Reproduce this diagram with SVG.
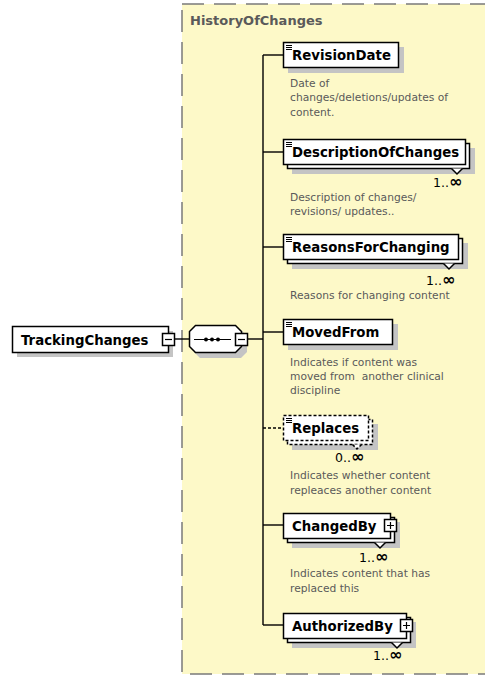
<svg xmlns="http://www.w3.org/2000/svg" width="485" height="676" viewBox="0 0 485 676">
  <style>
    .name { font-family: "DejaVu Sans", sans-serif; font-weight: bold; font-size: 13.3px; fill: #000; }
    .title { font-family: "DejaVu Sans", sans-serif; font-weight: bold; font-size: 13px; fill: #5a5a5a; }
    .doc { font-family: "DejaVu Sans", sans-serif; font-size: 10.7px; fill: #5a5a5a; }
    .occ { font-family: "DejaVu Sans", sans-serif; font-size: 12.5px; fill: #000; }
    .inf { font-size: 16px; font-weight: bold; }
    .box { fill: #fff; stroke: #000; stroke-width: 1.5; }
    .opt { fill: #fff; stroke: #000; stroke-width: 1.5; stroke-dasharray: 3 2; }
    .shadow { fill: #c4c4c4; }
    .conn { stroke: #000; stroke-width: 1.4; fill: none; }
    .icon { stroke: #000; stroke-width: 1.2; }
  </style>

  <!-- complex type content area -->
  <g id="HistoryOfChanges">
    <rect x="182" y="4" width="320" height="670" fill="#fdf9c8" stroke="#7a7a7a" stroke-width="1.5" stroke-dasharray="22 10"/>
    <text class="title" x="190" y="25">HistoryOfChanges</text>
  </g>

  <!-- connectors -->
  <g id="connectors" class="conn">
    <line x1="175" y1="339" x2="189" y2="339"/>
    <line x1="248" y1="339" x2="263" y2="339"/>
    <line x1="263" y1="55" x2="263" y2="625"/>
    <line x1="263" y1="55" x2="283" y2="55"/>
    <line x1="263" y1="152" x2="283" y2="152"/>
    <line x1="263" y1="247" x2="283" y2="247"/>
    <line x1="263" y1="332" x2="283" y2="332"/>
    <line x1="263" y1="428" x2="283" y2="428" stroke-dasharray="3 2"/>
    <line x1="263" y1="525" x2="283" y2="525"/>
    <line x1="263" y1="625" x2="283" y2="625"/>
  </g>

  <!-- root element -->
  <g id="TrackingChanges">
    <rect class="shadow" x="17" y="331" width="156" height="26"/>
    <rect class="box" x="12.5" y="326.5" width="156" height="26"/>
    <text class="name" x="21" y="344.5">TrackingChanges</text>
    <rect class="box" x="162.5" y="333.5" width="12" height="12"/>
    <line class="icon" x1="165" y1="339.5" x2="172" y2="339.5"/>
  </g>

  <!-- sequence compositor -->
  <g id="sequence">
    <path class="shadow" d="M200 330 H241 L247 336 V352 L241 358 H200 L194 352 V336 Z"/>
    <path class="box" d="M195.5 325.5 H235.5 L241.5 331.5 V346.5 L235.5 352.5 H195.5 L189.5 346.5 V331.5 Z"/>
    <line class="icon" x1="194" y1="339.5" x2="231" y2="339.5"/>
    <circle cx="206" cy="339.5" r="2"/>
    <circle cx="212" cy="339.5" r="2"/>
    <circle cx="218" cy="339.5" r="2"/>
    <rect class="box" x="235.5" y="333.5" width="12" height="12"/>
    <line class="icon" x1="238" y1="339.5" x2="245" y2="339.5"/>
  </g>

  <g id="RevisionDate">
    <rect class="shadow" x="288" y="47" width="116" height="26"/>
    <rect class="box" x="283.5" y="42.5" width="115" height="25"/>
    <path class="icon" d="M286 45.5 H292 M286 47.5 H292 M286 49.5 H292"/>
    <text class="name" x="292" y="59.5">RevisionDate</text>
    <text class="doc" x="290" y="87">Date of</text>
    <text class="doc" x="290" y="101">changes/deletions/updates of</text>
    <text class="doc" x="290" y="116">content.</text>
  </g>

  <g id="DescriptionOfChanges">
    <rect class="shadow" x="292" y="148" width="183" height="26"/>
    <rect class="box" x="287.5" y="143.5" width="182" height="25"/>
    <path class="box" d="M451.5 168.5 L457 174 L462.5 168.5"/>
    <rect class="box" x="283.5" y="139.5" width="182" height="25"/>
    <path class="icon" d="M286 142.5 H292 M286 144.5 H292 M286 146.5 H292"/>
    <text class="name" x="292" y="156.5">DescriptionOfChanges</text>
    <text class="occ" x="433" y="187">1..<tspan class="inf">∞</tspan></text>
    <text class="doc" x="290" y="201">Description of changes/</text>
    <text class="doc" x="290" y="215">revisions/ updates..</text>
  </g>

  <g id="ReasonsForChanging">
    <rect class="shadow" x="292" y="243" width="176" height="26"/>
    <rect class="box" x="287.5" y="238.5" width="175" height="25"/>
    <path class="box" d="M443.5 263.5 L449 269 L454.5 263.5"/>
    <rect class="box" x="283.5" y="234.5" width="175" height="25"/>
    <path class="icon" d="M286 237.5 H292 M286 239.5 H292 M286 241.5 H292"/>
    <text class="name" x="292" y="251.5">ReasonsForChanging</text>
    <text class="occ" x="426" y="285">1..<tspan class="inf">∞</tspan></text>
    <text class="doc" x="290" y="299">Reasons for changing content</text>
  </g>

  <g id="MovedFrom">
    <rect class="shadow" x="288" y="324" width="110" height="26"/>
    <rect class="box" x="283.5" y="319.5" width="109" height="25"/>
    <path class="icon" d="M286 322.5 H292 M286 324.5 H292 M286 326.5 H292"/>
    <text class="name" x="292" y="336.5">MovedFrom</text>
    <text class="doc" x="290" y="366">Indicates if content was</text>
    <text class="doc" x="290" y="380" xml:space="preserve">moved from  another clinical</text>
    <text class="doc" x="290" y="394">discipline</text>
  </g>

  <g id="Replaces">
    <rect class="shadow" x="292" y="424" width="86" height="26"/>
    <rect class="opt" x="287.5" y="419.5" width="85" height="25"/>
    <path class="opt" d="M352.5 444.5 L357 449 L361.5 444.5"/>
    <rect class="opt" x="283.5" y="415.5" width="85" height="25"/>
    <path class="icon" d="M286 418.5 H292 M286 420.5 H292 M286 422.5 H292"/>
    <text class="name" x="292" y="432.5">Replaces</text>
    <text class="occ" x="335" y="462">0..<tspan class="inf">∞</tspan></text>
    <text class="doc" x="290" y="479">Indicates whether content</text>
    <text class="doc" x="290" y="494">repleaces another content</text>
  </g>

  <g id="ChangedBy">
    <rect class="shadow" x="292" y="522" width="108" height="26"/>
    <rect class="box" x="287.5" y="517.5" width="107" height="25"/>
    <path class="box" d="M374.5 542.5 L380 548 L385.5 542.5"/>
    <rect class="box" x="283.5" y="513.5" width="107" height="25"/>
    <text class="name" x="292" y="530.5">ChangedBy</text>
    <rect class="box" x="384.5" y="519.5" width="12" height="12"/>
    <path class="icon" d="M387 525.5 H394 M390.5 522 V529"/>
    <text class="occ" x="359" y="562">1..<tspan class="inf">∞</tspan></text>
    <text class="doc" x="290" y="577">Indicates content that has</text>
    <text class="doc" x="290" y="592">replaced this</text>
  </g>

  <g id="AuthorizedBy">
    <rect class="shadow" x="292" y="622" width="124" height="26"/>
    <rect class="box" x="287.5" y="617.5" width="123" height="25"/>
    <path class="box" d="M391.5 642.5 L397 648 L402.5 642.5"/>
    <rect class="box" x="283.5" y="613.5" width="123" height="25"/>
    <text class="name" x="292" y="630.5">AuthorizedBy</text>
    <rect class="box" x="400.5" y="619.5" width="12" height="12"/>
    <path class="icon" d="M403 625.5 H410 M406.5 622 V629"/>
    <text class="occ" x="373" y="660">1..<tspan class="inf">∞</tspan></text>
  </g>
</svg>
